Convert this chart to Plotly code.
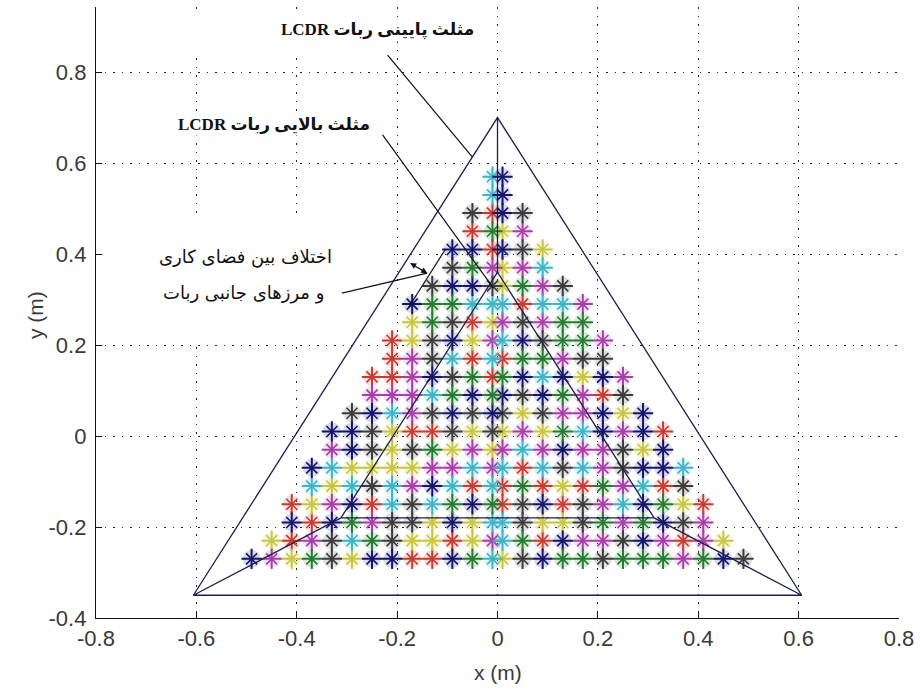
import plotly.graph_objects as go

# ---- workspace sample grid -------------------------------------------------
y_rows = [-0.27, -0.23, -0.19, -0.15, -0.11, -0.07, -0.03, 0.01, 0.05, 0.09,
          0.13, 0.17, 0.21, 0.25, 0.29, 0.33, 0.37, 0.41, 0.45, 0.49, 0.53, 0.57]
# column positions moving outward from the centre line
x_left = [-0.01, -0.05, -0.09, -0.13, -0.17, -0.21, -0.25, -0.29, -0.33,
          -0.37, -0.41, -0.45, -0.49]
x_right = [0.01, 0.05, 0.09, 0.13, 0.17, 0.21, 0.25, 0.29, 0.33,
           0.37, 0.41, 0.45, 0.49]

# colour codes of each row: left half listed outer -> centre, right half centre -> outer
left_rows = ["NMYGDYNNRRNGC", "YRMDCGDYYRYM", "NRNGMDDYNYC", "RYMNRCDCGNG",
             "CYCDCMNCRC", "NCYYYYMMCM", "MNDYDGYMY", "NNDYRRDYD", "DNCMDNDN",
             "MMMCGNG", "RRMNDGR", "RMDCRC", "RYDNYM", "YGDRY", "NGGCC", "DNND",
             "DGM", "NNR", "RG", "DR", "C", "C"]
right_rows = ["YDNGGDGGGMGND", "CGRNMMDNMRMY", "CDYYDGMGNDM", "RDNRDMCNGYR",
              "RGRYRGMCRD", "CRCDCMDNNC", "MCMNMMDYN", "YMYGCNMNR", "DYDMMNYN",
              "NDNGMRD", "GNCNYNM", "RGGMDD", "CNDGGM", "MDMGG", "CRCCM", "YGMD",
              "YMC", "NDY", "YM", "ND", "N", "N"]

palette = {
    "R": "#c43c33", "Y": "#c8c640", "M": "#a83ea8", "C": "#40b4c6",
    "D": "#3c3c3c", "N": "#15156c", "G": "#277a31",
}

# ---- robot geometry ----------------------------------------------------------
outer_x = [-0.606, 0.606, 0.0, -0.606]
outer_y = [-0.35, -0.35, 0.70, -0.35]
inner_x = [-0.312, 0.312, 0.0, -0.312]
inner_y = [-0.18, -0.18, 0.36, -0.18]
spoke_x = [[-0.606, -0.312], [0.606, 0.312], [0.0, 0.0]]
spoke_y = [[-0.35, -0.18], [-0.35, -0.18], [0.70, 0.36]]
side_edge_x = [-0.104, -0.177]
side_edge_y = [0.41, 0.283]

# ---- labels and pointers ---------------------------------------------------------
lower_label = "LCDR مثلث پایینی ربات"
upper_label = "LCDR مثلث بالایی ربات"
gap_label_1 = "اختلاف بین فضای کاری"
gap_label_2 = "و مرزهای جانبی ربات"
lower_pos = (-0.240, 0.892)
upper_pos = (-0.446, 0.684)
gap_pos_1 = (-0.502, 0.393)
gap_pos_2 = (-0.506, 0.314)
lower_ptr = ([-0.219, -0.050], [0.837, 0.613])
upper_ptr = ([-0.229, -0.008], [0.662, 0.325])
gap_ptr = ([-0.310, -0.140], [0.314, 0.358])
gap_arrow = ((-0.177, 0.382), (-0.140, 0.358))

x_ticks = [-0.8, -0.6, -0.4, -0.2, 0, 0.2, 0.4, 0.6, 0.8]
y_ticks = [-0.4, -0.2, 0, 0.2, 0.4, 0.6, 0.8]

# ---- collect points per colour ---------------------------------------------------
pts = {k: ([], []) for k in palette}
for j, y in enumerate(y_rows):
    for i, code in enumerate(reversed(left_rows[j])):
        pts[code][0].append(x_left[i])
        pts[code][1].append(y)
    for i, code in enumerate(right_rows[j]):
        pts[code][0].append(x_right[i])
        pts[code][1].append(y)

fig = go.Figure()
line_col = "#1e1e4e"

# soft halo under each marker
for code, (xs, ys) in pts.items():
    fig.add_trace(go.Scatter(
        x=xs, y=ys, mode="markers", hoverinfo="skip", showlegend=False,
        marker=dict(symbol="circle", size=18, color=palette[code], opacity=0.16,
                    line=dict(width=0))))

# star markers: long upright cross plus short diagonal cross
for code, (xs, ys) in pts.items():
    fig.add_trace(go.Scatter(
        x=xs, y=ys, mode="markers", showlegend=False, hoverinfo="skip",
        marker=dict(symbol="x-thin-open", size=11, color=palette[code],
                    line=dict(color=palette[code], width=1.6))))
    fig.add_trace(go.Scatter(
        x=xs, y=ys, mode="markers", showlegend=False,
        marker=dict(symbol="cross-thin-open", size=14.5, color=palette[code],
                    line=dict(color=palette[code], width=2))))

geom_style = dict(color=line_col, width=1.3)
fig.add_trace(go.Scatter(x=outer_x, y=outer_y, mode="lines", line=geom_style,
                         showlegend=False))
fig.add_trace(go.Scatter(x=inner_x, y=inner_y, mode="lines", line=geom_style,
                         showlegend=False))
for sx, sy in zip(spoke_x, spoke_y):
    fig.add_trace(go.Scatter(x=sx, y=sy, mode="lines", line=geom_style,
                             showlegend=False))
fig.add_trace(go.Scatter(x=side_edge_x, y=side_edge_y, mode="lines",
                         line=dict(color="#111111", width=1.2), showlegend=False))

for px, py in (lower_ptr, upper_ptr, gap_ptr):
    fig.add_trace(go.Scatter(x=px, y=py, mode="lines",
                             line=dict(color="#111111", width=1.2),
                             showlegend=False))

arabic_font = "DejaVu Sans"
bold_font = dict(family="Liberation Serif, " + arabic_font, size=17, color="#111111")
plain_font = dict(family=arabic_font, size=18, color="#111111")
axis_font = dict(family="Liberation Sans", size=22, color="#3a3a3a")

annotations = [
    dict(x=lower_pos[0], y=lower_pos[1], text="<b>" + lower_label + "</b>",
         showarrow=False, font=bold_font, bgcolor="white"),
    dict(x=upper_pos[0], y=upper_pos[1], text="<b>" + upper_label + "</b>",
         showarrow=False, font=bold_font, bgcolor="white"),
    dict(x=gap_pos_1[0], y=gap_pos_1[1], text=gap_label_1, showarrow=False,
         font=plain_font),
    dict(x=gap_pos_2[0], y=gap_pos_2[1], text=gap_label_2, showarrow=False,
         font=plain_font),
    dict(x=gap_arrow[1][0], y=gap_arrow[1][1], ax=gap_arrow[0][0],
         ay=gap_arrow[0][1], axref="x", ayref="y", text="", showarrow=True,
         arrowhead=2, startarrowhead=2, arrowside="end+start", arrowsize=1,
         startarrowsize=1, arrowwidth=1.2, arrowcolor="#111111"),
    dict(x=0, y=-0.4, xref="x", yref="y", text="x (m)", showarrow=False,
         yshift=-54, font=dict(family="Liberation Sans", size=21, color="#3a3a3a")),
    dict(x=0.0, xref="paper", xshift=-74, y=0.265, yref="y", text="y (m)",
         textangle=-90, showarrow=False,
         font=dict(family="Liberation Sans", size=21, color="#3a3a3a")),
]

# white patches where the annotation boxes mask the grid
shapes = [
    dict(type="rect", xref="x", yref="y", x0=-0.64, x1=-0.35, y0=0.84, y1=0.935,
         fillcolor="white", line=dict(width=0), layer="between"),
    dict(type="rect", xref="x", yref="y", x0=-0.8, x1=-0.215, y0=0.21, y1=0.475,
         fillcolor="white", line=dict(width=0), layer="between"),
]

axis_common = dict(
    showline=True, linecolor="#111111", linewidth=1.3, mirror=False,
    ticks="inside", ticklen=6, tickwidth=1, tickcolor="#111111",
    showgrid=True, gridcolor="#222222", gridwidth=1, griddash="1.5px,7px",
    zeroline=False, tickfont=axis_font,
)

fig.update_layout(
    width=921, height=692,
    margin=dict(l=96, r=22, t=7, b=74),
    paper_bgcolor="white", plot_bgcolor="white",
    xaxis=dict(range=[-0.8, 0.8], tickvals=x_ticks,
               ticktext=["-0.8", "-0.6", "-0.4", "-0.2", "0", "0.2", "0.4", "0.6", "0.8"],
               **axis_common),
    yaxis=dict(range=[-0.4, 0.943], tickvals=y_ticks,
               ticktext=["-0.4", "-0.2", "0", "0.2", "0.4", "0.6", "0.8"],
               ticklabelstandoff=4, **axis_common),
    annotations=annotations,
    shapes=shapes,
    showlegend=False,
)

fig.write_html("out.html")
